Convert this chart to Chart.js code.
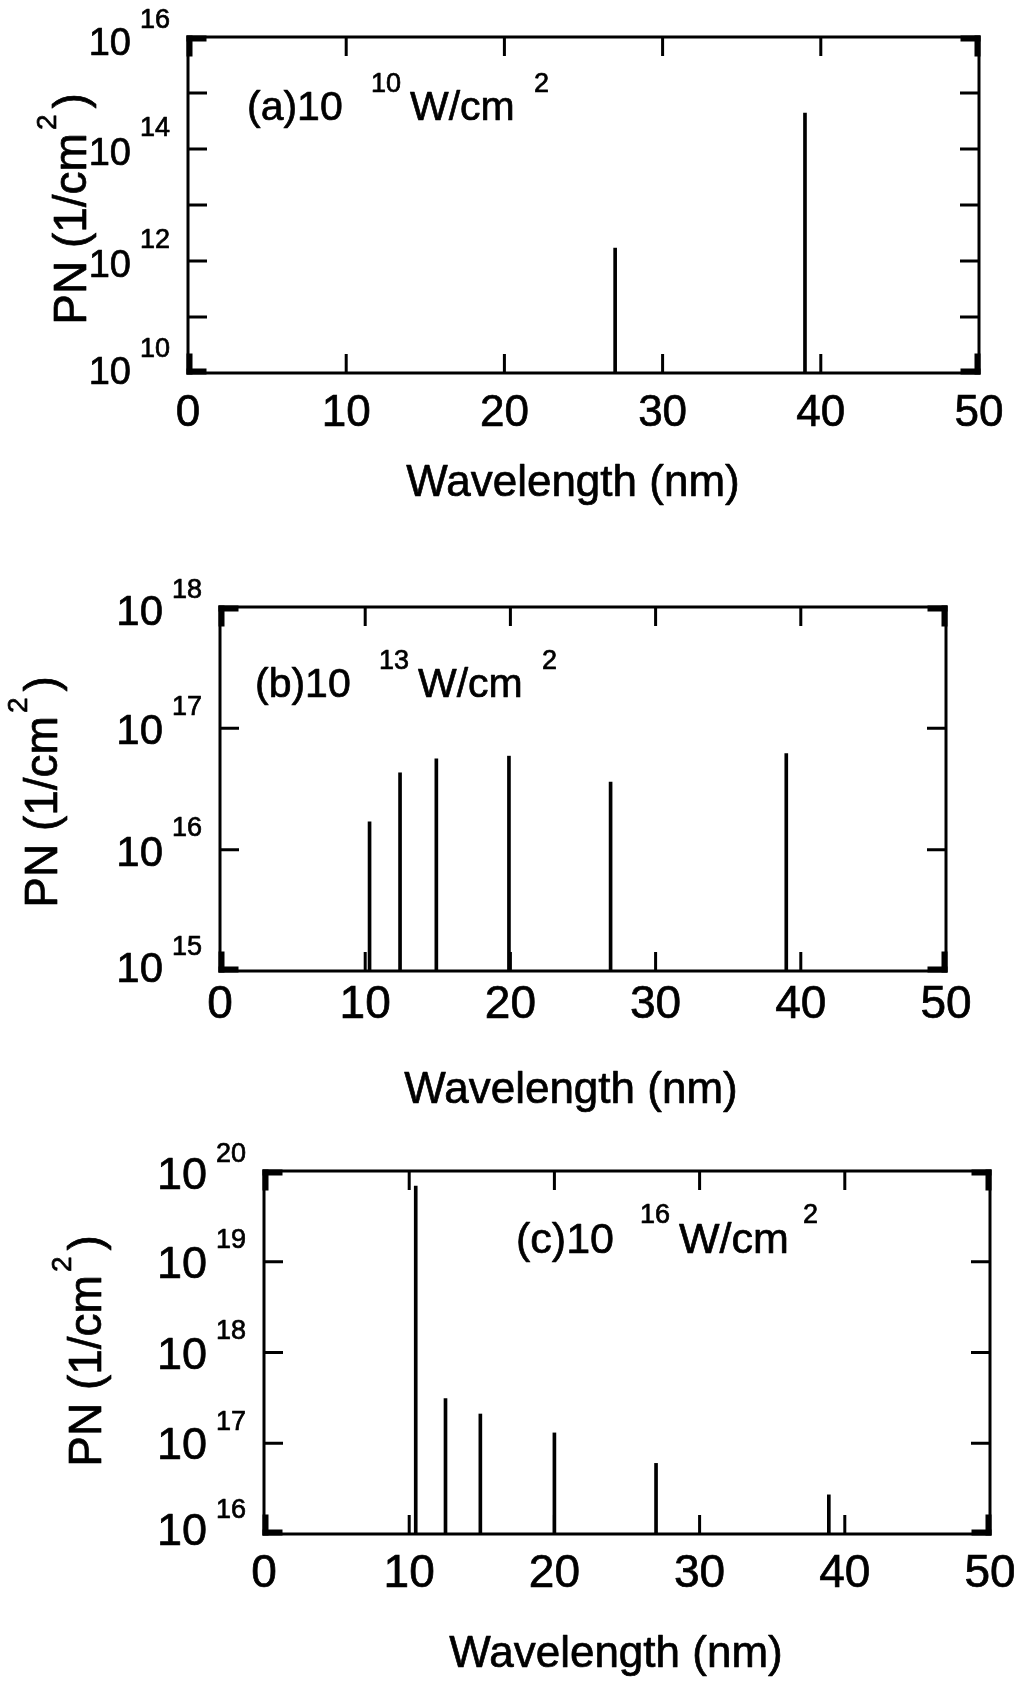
<!DOCTYPE html>
<html>
<head>
<meta charset="utf-8">
<title>PN vs wavelength</title>
<script src="https://cdn.jsdelivr.net/npm/chart.js@4.4.1/dist/chart.umd.min.js"></script>
<style>
  html, body { margin: 0; padding: 0; background: #fff; }
  #page { position: relative; width: 1014px; height: 1681px; overflow: hidden; }
  .panel { position: absolute; left: 0; width: 1014px; }
  canvas { display: block; }
</style>
</head>
<body>
<div id="page">
  <div class="panel" style="top:0px"><canvas id="chartA" width="1014" height="540"></canvas></div>
  <div class="panel" style="top:540px"><canvas id="chartB" width="1014" height="580"></canvas></div>
  <div class="panel" style="top:1120px"><canvas id="chartC" width="1014" height="561"></canvas></div>
</div>
<script>
// values
const xTicks = [0, 10, 20, 30, 40, 50];

// (a) 10^10 W/cm2
const wavelengthA = [27.0, 39.0];
const photonsA = [1.7e12, 4.4e14];
const decadesA = [10, 11, 12, 13, 14, 15, 16];
const labelDecadesA = [10, 12, 14, 16];

// (b) 10^13 W/cm2
const wavelengthB = [10.3, 12.4, 14.9, 19.9, 26.9, 39.0];
const photonsB = [1.7e16, 4.3e16, 5.6e16, 5.9e16, 3.6e16, 6.2e16];
const decadesB = [15, 16, 17, 18];
const labelDecadesB = [15, 16, 17, 18];

// (c) 10^16 W/cm2
const wavelengthC = [10.45, 12.5, 14.9, 20.0, 27.0, 38.9];
const photonsC = [6.8e19, 3.1e17, 2.1e17, 1.3e17, 6.0e16, 2.7e16];
const decadesC = [16, 17, 18, 19, 20];
const labelDecadesC = [16, 17, 18, 19, 20];

const FONT = "'Liberation Sans', Arial, Helvetica, sans-serif";
const TICK_LEN = 19;
const SUP_SIZE = 27;
const INK = 0.7; // slight stroke so the text has the weight of the scanned original

// layout of each panel (canvas coordinates)
const panels = [
  { id: 'chartA', wl: wavelengthA, pn: photonsA, decades: decadesA, labels: labelDecadesA,
    padTop: 37, padRight: 35, yWidth: 188, xHeight: 167,
    xFont: 44, xPad: 14, yFont: 38,
    xTitleX: 573, xTitleY: 484,
    titleX: 86, titleY: 209,
    tag: '(a)10', tagPow: '10', tagX: 247, tagY: 120, tagFont: 41, supRise: 28 },
  { id: 'chartB', wl: wavelengthB, pn: photonsB, decades: decadesB, labels: labelDecadesB,
    padTop: 67, padRight: 68, yWidth: 220, xHeight: 149,
    xFont: 46, xPad: 7, yFont: 42,
    xTitleX: 571, xTitleY: 551,
    titleX: 57, titleY: 252,
    tag: '(b)10', tagPow: '13', tagX: 255, tagY: 157, tagFont: 41, supRise: 28 },
  { id: 'chartC', wl: wavelengthC, pn: photonsC, decades: decadesC, labels: labelDecadesC,
    padTop: 51, padRight: 24, yWidth: 264, xHeight: 147,
    xFont: 46, xPad: 13, yFont: 45,
    xTitleX: 616, xTitleY: 535,
    titleX: 101, titleY: 231,
    tag: '(c)10', tagPow: '16', tagX: 516, tagY: 133, tagFont: 43, supRise: 30 }
];

function inkText(ctx, text, x, y) {
  ctx.fillText(text, x, y);
  ctx.strokeText(text, x, y);
}

// frame, inward ticks, 10^n labels, axis titles and the intensity tag
function framePlugin(p) {
  return {
    id: 'frame_' + p.id,
    afterDraw: function(chart) {
      var ctx = chart.ctx;
      var a = chart.chartArea;
      var x = chart.scales.x;
      var y = chart.scales.y;

      ctx.save();
      ctx.strokeStyle = '#000';
      ctx.fillStyle = '#000';
      ctx.lineWidth = 3;
      ctx.strokeRect(a.left, a.top, a.right - a.left, a.bottom - a.top);

      ctx.beginPath();
      xTicks.slice(1, -1).forEach(function(v) {
        var px = x.getPixelForValue(v);
        ctx.moveTo(px, a.bottom); ctx.lineTo(px, a.bottom - TICK_LEN);
        ctx.moveTo(px, a.top); ctx.lineTo(px, a.top + TICK_LEN);
      });
      p.decades.slice(1, -1).forEach(function(e) {
        var py = y.getPixelForValue(Math.pow(10, e));
        ctx.moveTo(a.left, py); ctx.lineTo(a.left + TICK_LEN, py);
        ctx.moveTo(a.right, py); ctx.lineTo(a.right - TICK_LEN, py);
      });
      ctx.stroke();

      // heavier corners, like the original plot frame
      var corners = [[a.left, a.top, 1, 1], [a.right, a.top, -1, 1], [a.left, a.bottom, 1, -1], [a.right, a.bottom, -1, -1]];
      corners.forEach(function(c) {
        var cx = c[0] - c[2] * 1.5, cy = c[1] - c[3] * 1.5;
        ctx.fillRect(Math.min(cx, cx + c[2] * 20), Math.min(cy, cy + c[3] * 6), 20, 6);
        ctx.fillRect(Math.min(cx, cx + c[2] * 6), Math.min(cy, cy + c[3] * 21), 6, 21);
      });

      ctx.lineWidth = INK;
      ctx.lineJoin = 'round';

      // y tick labels 10^n
      var first = p.decades[0], last = p.decades[p.decades.length - 1];
      ctx.textBaseline = 'alphabetic';
      p.labels.forEach(function(e) {
        var py = y.getPixelForValue(Math.pow(10, e));
        var db = 16, de = -13.5;
        if (e === last) { db = 18; de = -9.5; }
        else if (e === first) { db = 11; de = -16.5; }
        ctx.font = p.yFont + 'px ' + FONT;
        ctx.textAlign = 'right';
        inkText(ctx, '10', a.left - 57, py + db);
        ctx.font = SUP_SIZE + 'px ' + FONT;
        ctx.textAlign = 'left';
        inkText(ctx, String(e), a.left - 48, py + de);
      });

      // x axis title
      ctx.font = '44px ' + FONT;
      ctx.textAlign = 'center';
      ctx.textBaseline = 'middle';
      inkText(ctx, 'Wavelength (nm)', p.xTitleX, p.xTitleY);
      ctx.textBaseline = 'alphabetic';

      // y axis title, rotated, with the squared unit
      ctx.save();
      ctx.translate(p.titleX, p.titleY);
      ctx.rotate(-Math.PI / 2);
      ctx.textAlign = 'left';
      ctx.font = '46px ' + FONT;
      var w1 = ctx.measureText('PN (1/cm').width;
      var w3 = ctx.measureText(')').width;
      ctx.font = '28px ' + FONT;
      var w2 = ctx.measureText('2').width;
      var sx = -(w1 + 3 + w2 + 6 + w3) / 2;
      ctx.font = '46px ' + FONT;
      inkText(ctx, 'PN (1/cm', sx, 0);
      inkText(ctx, ')', sx + w1 + 3 + w2 + 6, 0);
      ctx.font = '28px ' + FONT;
      inkText(ctx, '2', sx + w1 + 3, -30);
      ctx.restore();

      // intensity tag inside the plot
      ctx.textAlign = 'left';
      ctx.font = p.tagFont + 'px ' + FONT;
      inkText(ctx, p.tag, p.tagX, p.tagY);
      inkText(ctx, 'W/cm', p.tagX + 163, p.tagY);
      ctx.font = SUP_SIZE + 'px ' + FONT;
      inkText(ctx, p.tagPow, p.tagX + 124, p.tagY - p.supRise);
      inkText(ctx, '2', p.tagX + 287, p.tagY - p.supRise);

      ctx.restore();
    }
  };
}

function buildChart(p) {
  var yMin = Math.pow(10, p.decades[0]);
  var yMax = Math.pow(10, p.decades[p.decades.length - 1]);
  // each emission line is a thin floating bar from the axis floor up to its value
  var points = p.wl.map(function(w, i) {
    return { x: w, y: [yMin, p.pn[i]] };
  });

  var config = {
    type: 'bar',
    data: {
      datasets: [{
        data: points,
        backgroundColor: '#000',
        borderWidth: 0,
        barThickness: 3
      }]
    },
    options: {
      responsive: false,
      animation: false,
      layout: { padding: { top: p.padTop, right: p.padRight, left: 0, bottom: 0 } },
      plugins: {
        legend: { display: false },
        tooltip: { enabled: false }
      },
      scales: {
        x: {
          type: 'linear',
          min: 0,
          max: 50,
          offset: false,
          grid: { display: false, drawTicks: false, offset: false },
          border: { display: false },
          afterBuildTicks: function(s) {
            s.ticks = xTicks.map(function(v) { return { value: v }; });
          },
          afterFit: function(s) {
            s.height = p.xHeight;
            s.paddingLeft = 0;
            s.paddingRight = 0;
          },
          ticks: {
            color: '#000',
            font: { family: FONT, size: p.xFont },
            textStrokeColor: '#000',
            textStrokeWidth: INK,
            padding: p.xPad,
            autoSkip: false,
            maxRotation: 0
          }
        },
        y: {
          type: 'logarithmic',
          min: yMin,
          max: yMax,
          grid: { display: false, drawTicks: false },
          border: { display: false },
          ticks: { display: false },
          afterFit: function(s) {
            s.width = p.yWidth;
            s.paddingTop = 0;
            s.paddingBottom = 0;
          }
        }
      }
    },
    plugins: [framePlugin(p)]
  };
  return new Chart(document.getElementById(p.id), config);
}

panels.forEach(function(p) {
  buildChart(p);
});
</script>
</body>
</html>
